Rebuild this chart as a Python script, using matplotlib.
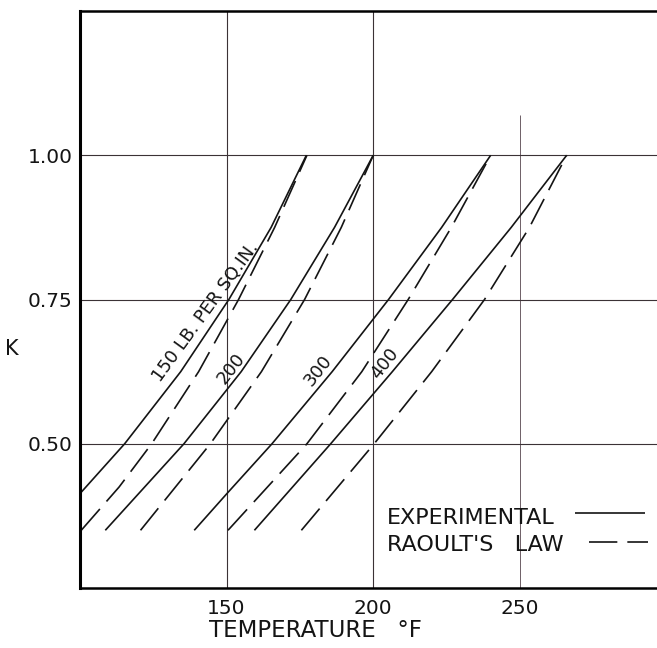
import matplotlib.pyplot as plt
from matplotlib.lines import Line2D

plt.rcParams['font.family'] = ['DejaVu Sans']

# K values vs temperature (deg F) for each pressure, lb. per sq. in.
exp_150_t = [100.5, 115.3, 134.4, 150.8, 165.2, 177.2]
exp_150_k = [0.416, 0.500, 0.625, 0.750, 0.875, 1.000]
rao_150_t = [100.5, 113.4, 124.5, 140.5, 154.1, 166.4, 177.4]
rao_150_k = [0.350, 0.425, 0.500, 0.625, 0.750, 0.875, 1.000]

exp_200_t = [108.7, 135.5, 155.0, 171.9, 186.8, 200.0]
exp_200_k = [0.350, 0.500, 0.625, 0.750, 0.875, 1.000]
rao_200_t = [120.7, 144.5, 161.9, 176.6, 189.1, 200.0]
rao_200_k = [0.350, 0.500, 0.625, 0.750, 0.875, 1.000]

exp_300_t = [139.0, 150.2, 165.5, 186.0, 205.2, 223.3, 240.0]
exp_300_k = [0.350, 0.414, 0.500, 0.625, 0.750, 0.875, 1.000]
rao_300_t = [150.5, 177.4, 196.1, 211.9, 226.6, 240.0]
rao_300_k = [0.350, 0.500, 0.625, 0.750, 0.875, 1.000]

exp_400_t = [159.5, 185.5, 206.5, 227.0, 247.0, 265.9]
exp_400_k = [0.350, 0.500, 0.625, 0.750, 0.875, 1.000]
rao_400_t = [175.5, 200.3, 219.9, 237.9, 253.2, 265.9]
rao_400_k = [0.350, 0.500, 0.625, 0.750, 0.875, 1.000]

xticks = [150, 200, 250]
yticks = [0.50, 0.75, 1.00]
ytick_labels = ['0.50', '0.75', '1.00']

W, H = 657, 648
fig = plt.figure(figsize=(W / 100, H / 100), dpi=100)
ax = fig.add_axes([0.1214, 0.0926, 0.8935, 0.8904])
ax.set_xlim(100, 300)
ax.set_ylim(0.25, 1.25)

ink = '#141414'
grid_c = '#3b3236'

# grid
for t in [150, 200]:
    ax.vlines(t, 0.25, 1.25, color=grid_c, lw=0.8, zorder=1)
ax.vlines(250, 0.25, 1.07, color='#6d5f66', lw=0.7, zorder=1)
for k in yticks:
    ax.hlines(k, 100, 300, color=grid_c, lw=0.8, zorder=1)

solid = dict(color=ink, lw=1.2, solid_capstyle='butt', solid_joinstyle='round')
dashed = dict(color=ink, lw=1.2, dashes=(17, 6))

ax.plot(exp_150_t, exp_150_k, **solid)
ax.plot(rao_150_t, rao_150_k, **dashed)
ax.plot(exp_200_t, exp_200_k, **solid)
ax.plot(rao_200_t, rao_200_k, **dashed)
ax.plot(exp_300_t, exp_300_k, **solid)
ax.plot(rao_300_t, rao_300_k, **dashed)
ax.plot(exp_400_t, exp_400_k, **solid)
ax.plot(rao_400_t, rao_400_k, **dashed)

# pressure labels along the experimental curves
lab = dict(ha='center', va='center', rotation_mode='anchor', color=ink)
ax.text(143.0, 0.728, '150 LB. PER SQ.IN.', fontsize=12.8, rotation=54, **lab)
ax.text(151.6, 0.630, '200', fontsize=13, rotation=52, **lab)
ax.text(181.2, 0.627, '300', fontsize=13, rotation=52, **lab)
ax.text(204.0, 0.639, '400', fontsize=13, rotation=52, **lab)

# key: label on the left, line sample on the right
fig.text(387 / W, 1 - 518 / H, 'EXPERIMENTAL', fontsize=16, ha='left', va='center', color=ink)
fig.text(387 / W, 1 - 545 / H, "RAOULT'S   LAW", fontsize=16, ha='left', va='center', color=ink)
fig.add_artist(Line2D([575 / W, 645 / W], [1 - 513 / H] * 2, **solid))
fig.add_artist(Line2D([589 / W, 648 / W], [1 - 542 / H] * 2, **dashed))

ax.set_xticks(xticks)
ax.set_xticklabels([str(t) for t in xticks])
ax.set_yticks(yticks)
ax.set_yticklabels(ytick_labels)
ax.tick_params(length=0, labelsize=14.5, colors=ink)
ax.tick_params(axis='x', pad=8)
ax.tick_params(axis='y', pad=5)

ax.text(180.3, 0.177, 'TEMPERATURE   °F', fontsize=16.5, ha='center', va='center',
        color=ink, clip_on=False)
ax.text(76.9, 0.665, 'K', fontsize=15, ha='center', va='center', color=ink, clip_on=False)

ax.spines['left'].set_linewidth(2.2)
ax.spines['bottom'].set_linewidth(1.8)
ax.spines['top'].set_linewidth(1.8)
ax.spines['right'].set_visible(False)

fig.savefig('out.png', dpi=100)
